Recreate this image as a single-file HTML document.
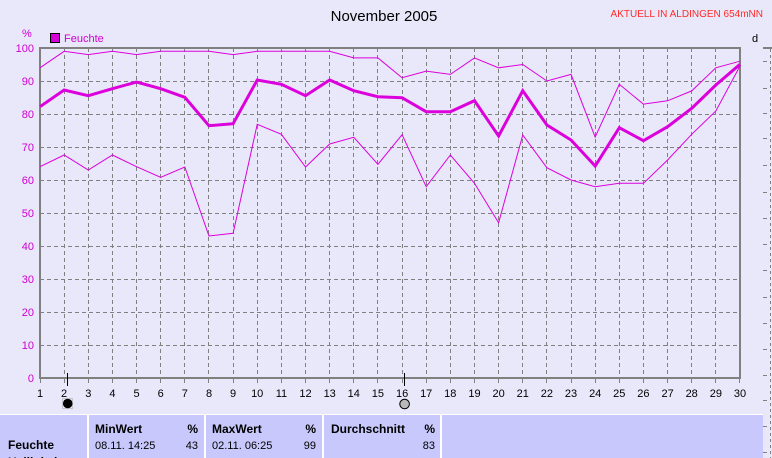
<!DOCTYPE html>
<html><head><meta charset="utf-8"><style>
html,body{margin:0;padding:0;}
body{width:772px;height:458px;overflow:hidden;background:#e8e8fa;font-family:"Liberation Sans",sans-serif;}
svg{display:block;}
</style></head><body>
<svg width="772" height="458" viewBox="0 0 772 458" xmlns="http://www.w3.org/2000/svg" font-family="Liberation Sans, sans-serif">
<rect x="0" y="0" width="772" height="458" fill="#e8e8fa"/>
<!-- title -->
<text x="384" y="21" font-size="15" text-anchor="middle" fill="#000">November 2005</text>
<text x="763" y="17" font-size="10" text-anchor="end" fill="#ff2a2a">AKTUELL IN ALDINGEN 654mNN</text>
<!-- legend -->
<text x="22" y="37" font-size="11" fill="#d000d0">%</text>
<rect x="50.5" y="33.5" width="9" height="9" fill="#d800d8" stroke="#000" stroke-width="1"/>
<text x="64" y="42" font-size="11" fill="#d000d0">Feuchte</text>
<!-- grid -->
<g stroke="#808080" stroke-width="1" stroke-dasharray="4,3" fill="none">
<path d="M40 81.5H740M40 114.5H740M40 147.5H740M40 180.5H740M40 213.5H740M40 246.5H740M40 279.5H740M40 312.5H740M40 345.5H740"/>
<path d="M64.5 48V378M88.5 48V378M112.5 48V378M136.5 48V378M160.5 48V378M184.5 48V378M208.5 48V378M233.5 48V378M257.5 48V378M281.5 48V378M305.5 48V378M329.5 48V378M353.5 48V378M377.5 48V378M402.5 48V378M426.5 48V378M450.5 48V378M474.5 48V378M498.5 48V378M522.5 48V378M546.5 48V378M571.5 48V378M595.5 48V378M619.5 48V378M643.5 48V378M667.5 48V378M691.5 48V378M715.5 48V378"/>
</g>
<!-- x ticks -->
<g stroke="#808080" stroke-width="1">
<path d="M40.5 378V383M64.5 378V383M88.5 378V383M112.5 378V383M136.5 378V383M160.5 378V383M184.5 378V383M208.5 378V383M233.5 378V383M257.5 378V383M281.5 378V383M305.5 378V383M329.5 378V383M353.5 378V383M377.5 378V383M402.5 378V383M426.5 378V383M450.5 378V383M474.5 378V383M498.5 378V383M522.5 378V383M546.5 378V383M571.5 378V383M595.5 378V383M619.5 378V383M643.5 378V383M667.5 378V383M691.5 378V383M715.5 378V383M739.5 378V383"/>
</g>
<!-- frame -->
<g fill="#808080">
<rect x="39" y="47" width="702" height="2"/>
<rect x="39" y="377" width="702" height="2"/>
<rect x="39" y="47" width="2" height="332"/>
<rect x="739" y="47" width="2" height="332"/>
</g>
<!-- y labels -->
<g font-size="11" fill="#d000d0" text-anchor="end">
<text x="34" y="52">100</text>
<text x="34" y="85">90</text>
<text x="34" y="118">80</text>
<text x="34" y="151">70</text>
<text x="34" y="184">60</text>
<text x="34" y="217">50</text>
<text x="34" y="250">40</text>
<text x="34" y="283">30</text>
<text x="34" y="316">20</text>
<text x="34" y="349">10</text>
<text x="34" y="382">0</text>
</g>
<!-- x labels -->
<g font-size="11" fill="#000" text-anchor="middle">
<text x="40" y="397">1</text><text x="64.1" y="397">2</text><text x="88.3" y="397">3</text><text x="112.4" y="397">4</text><text x="136.6" y="397">5</text><text x="160.7" y="397">6</text><text x="184.8" y="397">7</text><text x="209" y="397">8</text><text x="233.1" y="397">9</text><text x="257.2" y="397">10</text><text x="281.4" y="397">11</text><text x="305.5" y="397">12</text><text x="329.7" y="397">13</text><text x="353.8" y="397">14</text><text x="377.9" y="397">15</text><text x="402.1" y="397">16</text><text x="426.2" y="397">17</text><text x="450.3" y="397">18</text><text x="474.5" y="397">19</text><text x="498.6" y="397">20</text><text x="522.8" y="397">21</text><text x="546.9" y="397">22</text><text x="571" y="397">23</text><text x="595.2" y="397">24</text><text x="619.3" y="397">25</text><text x="643.4" y="397">26</text><text x="667.6" y="397">27</text><text x="691.7" y="397">28</text><text x="715.9" y="397">29</text><text x="740" y="397">30</text>
</g>
<!-- series -->
<g fill="none" stroke="#dc00dc" stroke-linejoin="miter">
<polyline stroke-width="1" points="40,67.8 64.14,51.3 88.28,54.6 112.41,51.3 136.55,54.6 160.69,51.3 184.83,51.3 208.97,51.3 233.1,54.6 257.24,51.3 281.38,51.3 305.52,51.3 329.66,51.3 353.79,57.9 377.93,57.9 402.07,77.7 426.21,71.1 450.34,74.4 474.48,57.9 498.62,67.8 522.76,64.5 546.9,81 571.03,74.4 595.17,137.1 619.31,84.3 643.45,104.1 667.59,100.8 691.72,90.9 715.86,67.8 740,61.2"/>
<polyline stroke-width="3" points="40,106.7 64.14,90 88.28,95.7 112.41,88.7 136.55,82 160.69,88.7 184.83,97.3 208.97,125.7 233.1,123.7 257.24,80 281.38,84.3 305.52,95.7 329.66,80 353.79,90.7 377.93,96.7 402.07,97.7 426.21,111.7 450.34,111.7 474.48,100.7 498.62,136 522.76,90.7 546.9,125 571.03,140 595.17,166 619.31,127.7 643.45,140.7 667.59,126.7 691.72,108.3 715.86,85 740,64.3"/>
<polyline stroke-width="1" points="40,166.7 64.14,155 88.28,170 112.41,155 136.55,166.7 160.69,177.3 184.83,167 208.97,236 233.1,233.3 257.24,124.3 281.38,134.3 305.52,167 329.66,144 353.79,137.3 377.93,164.3 402.07,134.7 426.21,186.7 450.34,155 474.48,183.3 498.62,222.7 522.76,135 546.9,167.7 571.03,180 595.17,186.7 619.31,183.3 643.45,183.3 667.59,160 691.72,134.3 715.86,111 740,66"/>
</g>
<!-- moon markers -->
<path d="M67.5 373V386M404.5 373V386" stroke="#000" stroke-width="1"/>
<rect x="62.5" y="398.5" width="10" height="10" fill="none" stroke="#a0a0a0" stroke-width="1" stroke-dasharray="1,1"/>
<circle cx="67.7" cy="403.5" r="4.8" fill="#000"/>
<circle cx="404.6" cy="404" r="4.8" fill="#b8b8b8" stroke="#000" stroke-width="1"/>
<!-- right panel -->
<text x="752" y="42" font-size="11" fill="#000">d</text>
<rect x="763" y="47" width="9" height="2" fill="#808080"/>
<path d="M770.5 49V458" stroke="#808080" stroke-width="1" stroke-dasharray="3,3"/>
<path d="M763 61.5H767M763 88.5H767M763 113.5H767M763 138.5H767M763 165.5H767M763 192.5H767M763 218.5H767M763 244.5H767M763 270.5H767M763 297.5H767M763 323.5H767M763 349.5H767M763 375.5H767M763 400.5H767M763 426.5H767M763 452.5H767" stroke="#808080" stroke-width="1"/>
<!-- table -->
<rect x="0" y="414" width="763" height="1" fill="#ffffff"/>
<rect x="0" y="415" width="763" height="43" fill="#c8c8fc"/>
<rect x="87" y="415" width="2" height="43" fill="#ffffff"/>
<rect x="204" y="415" width="2" height="43" fill="#ffffff"/>
<rect x="322" y="415" width="2" height="43" fill="#ffffff"/>
<rect x="440" y="415" width="2" height="43" fill="#ffffff"/>
<g font-size="12" font-weight="bold" fill="#000">
<text x="8" y="449">Feuchte</text>
<text x="8" y="466">Helligkeit</text>
<text x="95" y="433">MinWert</text>
<text x="198" y="433" text-anchor="end">%</text>
<text x="212" y="433">MaxWert</text>
<text x="316" y="433" text-anchor="end">%</text>
<text x="331" y="433">Durchschnitt</text>
<text x="435" y="433" text-anchor="end">%</text>
</g>
<g font-size="11" fill="#000">
<text x="95" y="449">08.11.  14:25</text>
<text x="198" y="449" text-anchor="end">43</text>
<text x="212" y="449">02.11.  06:25</text>
<text x="316" y="449" text-anchor="end">99</text>
<text x="435" y="449" text-anchor="end">83</text>
</g>
</svg>
</body></html>
